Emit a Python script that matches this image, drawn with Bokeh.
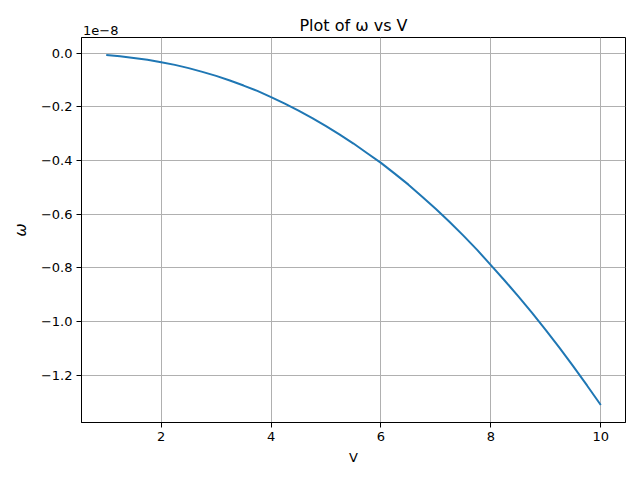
from bokeh.plotting import figure
from bokeh.models import FixedTicker, CustomJSTickFormatter, Range1d, ColumnDataSource, LinearAxis
from bokeh.embed import file_html
from bokeh.resources import INLINE

# Data (omega in units of 1e-8)
V = [1.0, 1.25, 1.5, 1.75, 2.0, 2.25, 2.5, 2.75, 3.0, 3.25, 3.5, 3.75, 4.0, 4.25, 4.5, 4.75,
     5.0, 5.25, 5.5, 5.75, 6.0, 6.25, 6.5, 6.75, 7.0, 7.25, 7.5, 7.75, 8.0, 8.25, 8.5, 8.75,
     9.0, 9.25, 9.5, 9.75, 10.0]
omega = [-0.007, -0.012, -0.018, -0.025, -0.034, -0.044, -0.056, -0.070, -0.085, -0.102,
         -0.121, -0.141, -0.164, -0.188, -0.214, -0.242, -0.272, -0.304, -0.337, -0.373,
         -0.409, -0.449, -0.490, -0.535, -0.581, -0.629, -0.680, -0.733, -0.790, -0.847,
         -0.906, -0.968, -1.032, -1.098, -1.167, -1.238, -1.311]
x_ticks = [2, 4, 6, 8, 10]
y_ticks = [0.0, -0.2, -0.4, -0.6, -0.8, -1.0, -1.2]
title_text = "Plot of ω vs V"
offset_text = "1e\u22128"

FONT = "DejaVu Sans"

p = figure(output_backend="svg", toolbar_location=None,
           frame_width=544, frame_height=385,
           min_border_left=81, min_border_right=7, min_border_top=37, min_border_bottom=50,
           x_range=Range1d(0.55, 10.45), y_range=Range1d(-1.376, 0.058))

src = ColumnDataSource(dict(V=V, omega=omega))
p.line("V", "omega", source=src, line_color="#1f77b4", line_width=2)

p.xaxis.ticker = FixedTicker(ticks=x_ticks)
p.yaxis.ticker = FixedTicker(ticks=y_ticks)
p.yaxis.formatter = CustomJSTickFormatter(code="""
    const v = Math.round(tick*10)/10;
    if (Math.abs(v) < 1e-9) return '0.0';
    return (v < 0 ? '\u2212' : '') + Math.abs(v).toFixed(1);
""")

for ax in (p.xaxis[0], p.yaxis[0]):
    ax.major_label_text_font = FONT
    ax.major_label_text_font_size = "13px"
    ax.major_label_text_color = "black"
    ax.axis_label_text_font = FONT
    ax.axis_label_text_font_style = "normal"
    ax.axis_label_text_color = "black"
    ax.axis_line_color = "black"
    ax.major_tick_line_color = "black"
    ax.major_tick_out = 5
    ax.major_tick_in = 0
    ax.minor_tick_line_color = None
    ax.major_label_standoff = 4

p.xaxis.axis_label = "V"
p.xaxis.axis_label_text_font_size = "13px"
p.xaxis.axis_label_standoff = 6
p.yaxis.axis_label = "ω"
p.yaxis.axis_label_text_font_size = "16px"
p.yaxis.axis_label_text_font_style = "italic"
p.yaxis.axis_label_standoff = 8

# top axis carrying the offset text and the title
top = LinearAxis(ticker=FixedTicker(ticks=[0.90]),
                 formatter=CustomJSTickFormatter(code="return '%s';" % offset_text),
                 axis_line_color=None, major_tick_line_color=None, minor_tick_line_color=None,
                 major_tick_out=0, major_tick_in=0, major_label_standoff=3,
                 major_label_text_font=FONT, major_label_text_font_size="13px",
                 major_label_text_color="black",
                 axis_label=title_text, axis_label_text_font=FONT,
                 axis_label_text_font_size="16px", axis_label_text_font_style="normal",
                 axis_label_text_color="black", axis_label_standoff=-12)
p.add_layout(top, "above")

p.xgrid.grid_line_color = "#b0b0b0"
p.ygrid.grid_line_color = "#b0b0b0"
p.xgrid.grid_line_width = 1
p.ygrid.grid_line_width = 1

p.outline_line_color = "black"
p.outline_line_alpha = 1
p.outline_line_width = 1
p.background_fill_color = "white"
p.border_fill_color = "white"

open("out.html", "w").write(file_html(p, INLINE))
